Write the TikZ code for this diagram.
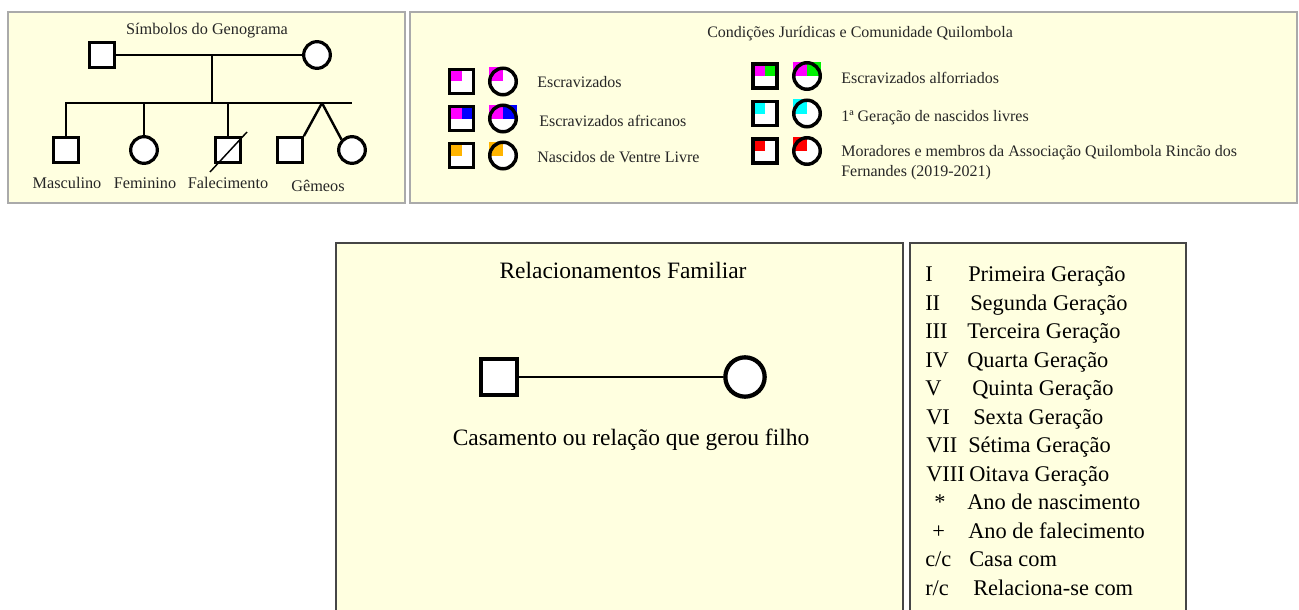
\documentclass[tikz,border=0pt]{standalone}
\usepackage{fontspec}
\setmainfont{Liberation Serif}
\definecolor{panel}{RGB}{255,255,224}
\definecolor{edgeA}{RGB}{170,170,170}
\definecolor{edgeB}{RGB}{70,70,70}
\definecolor{amber}{RGB}{255,180,0}
\definecolor{mag}{RGB}{255,0,255}
\definecolor{blu}{RGB}{0,0,255}
\definecolor{grn}{RGB}{0,240,0}
\definecolor{cyn}{RGB}{0,255,255}
\definecolor{rd}{RGB}{255,0,0}
\tikzset{
  panelA/.style={draw=edgeA, fill=panel, line width=1.5pt},
  panelB/.style={draw=edgeB, fill=panel, line width=1.5pt},
  gsq/.style={rectangle, draw, fill=white, line width=2.5pt, minimum size=18.3pt, inner sep=0pt},
  gci/.style={circle, draw, fill=white, line width=2.4pt, minimum size=20pt, inner sep=0pt},
  gline/.style={line width=1.8pt},
  lsq/.style={rectangle, draw, fill=white, line width=2.6pt, minimum size=18.2pt, inner sep=0pt},
  lci/.style={circle, draw, fill=white, line width=2.6pt, minimum size=19.9pt, inner sep=0pt},
  quad/.style={path picture={\fill[#1] (path picture bounding box.north west) rectangle (path picture bounding box.center);}},
  halfq/.style 2 args={path picture={\fill[#1] (path picture bounding box.north west) rectangle (path picture bounding box.center);
     \fill[#2] (path picture bounding box.north east) rectangle (path picture bounding box.center);}},
  smallA/.style={font=\fontsize{12.2}{15}\selectfont, text=black!85, inner sep=0pt, anchor=base},
  small/.style={font=\fontsize{12}{15}\selectfont, text=black!85, inner sep=0pt},
  lab/.style={small, anchor=base west},
  big/.style={font=\fontsize{17.6}{21}\selectfont, text=black, inner sep=0pt, anchor=base},
  gen/.style={font=\fontsize{16.8}{20}\selectfont, text=black, inner sep=0pt, anchor=base west},
}
\begin{document}
\begin{tikzpicture}[x=0.75pt,y=-0.75pt]
\useasboundingbox (0,0) rectangle (1299,610);
\fill[white] (0,0) rectangle (1299,610);

% ---------- Panel 1: Simbolos do Genograma ----------
\draw[panelA] (8,12) rectangle (405,203);
\node[smallA] (t1) at (207,35) {Símbolos do Genograma};
\node[gsq] (pf) at (102,55) {};
\node[gci] (pm) at (317,55) {};
\draw[gline] (pf) -- (pm);
\coordinate (cpl) at (212,55);
\coordinate (sib) at (212,103);
\coordinate (sibR) at (352,103);
\coordinate (tw) at (322,103);
\draw[gline] (cpl) -- (sib);
\node[gsq] (c1) at (66,150) {};
\node[gci] (c2) at (144,150) {};
\node[gsq] (c3) at (228,150) {};
\node[gsq] (c4) at (290,150) {};
\node[gci] (c5) at (352,150) {};
\draw[gline] (c1.north) -- (c1.north |- sib) -- (sibR);
\draw[gline] (c2.north) -- (c2.north |- sib);
\draw[gline] (c3.north) -- (c3.north |- sib);
\draw[gline] (tw) -- (c4.north east);
\draw[gline] (tw) -- (c5.north west);
\draw[line width=1.1pt] ([shift={(-18,22)}]c3.center) -- ([shift={(19,-18)}]c3.center);
\node[smallA] (l1) at (67,188) {Masculino};
\node[smallA] (l2) at (145,188) {Feminino};
\node[smallA] (l3) at (228,188) {Falecimento};
\node[smallA] (l4) at (318,191) {Gêmeos};

% ---------- Panel 2: Condicoes Juridicas ----------
\draw[panelA] (410,12) rectangle (1297,203);
\node[lab] (t2) at (707,38) {Condições Jurídicas e Comunidade Quilombola};
% left column
\node[lsq, quad=mag] (s1) at (461.5,81.5) {};
\fill[mag] (503,81.5) rectangle ++(-14,-14);
\node[lci, quad=mag] (o1) at (503,81.5) {};
\node[lab] (e1) at (537,88) {Escravizados};

\node[lsq, halfq={mag}{blu}] (s2) at (461.5,118.5) {};
\fill[mag] (503,118.5) rectangle ++(-14,-14);
\fill[blu] (503,118.5) rectangle ++(14,-14);
\node[lci, halfq={mag}{blu}] (o2) at (503,118.5) {};
\node[lab] (e2) at (539,126) {Escravizados africanos};

\node[lsq, quad=amber] (s3) at (461.5,155.5) {};
\fill[amber] (503,155.5) rectangle ++(-14,-14);
\node[lci, quad=amber] (o3) at (503,155.5) {};
\node[lab] (e3) at (537,162) {Nascidos de Ventre Livre};
% right column
\node[lsq, halfq={mag}{grn}] (s4) at (765,76) {};
\fill[mag] (807,76) rectangle ++(-14,-14);
\fill[grn] (807,76) rectangle ++(14,-14);
\node[lci, halfq={mag}{grn}] (o4) at (807,76) {};
\node[lab] (e4) at (841,84) {Escravizados alforriados};

\node[lsq, quad=cyn] (s5) at (765,113.5) {};
\fill[cyn] (807,113.5) rectangle ++(-14,-14);
\node[lci, quad=cyn] (o5) at (807,113.5) {};
\node[lab] (e5) at (841,122) {1ª Geração de nascidos livres};

\node[lsq, quad=rd] (s6) at (765,151) {};
\fill[rd] (807,151) rectangle ++(-14,-14);
\node[lci, quad=rd] (o6) at (807,151) {};
\node[lab] (e6) at (841,156) {Moradores e membros da Associação Quilombola Rincão dos};
\node[lab] (e6b) at (841,176) {Fernandes (2019-2021)};

% ---------- Panel 3: Relacionamentos Familiar ----------
\draw[panelB] (336,243) rectangle (903,625);
\node[big] (t3) at (623,278) {Relacionamentos Familiar};
\node[rectangle, draw, fill=white, line width=3.2pt, minimum size=26.5pt, inner sep=0pt] (hs) at (499,377) {};
\node[circle, draw, fill=white, line width=3.2pt, minimum size=29.5pt, inner sep=0pt] (hc) at (745,377) {};
\draw[line width=2pt] (hs) -- (hc);
\node[big] (cap) at (631,445) {Casamento ou relação que gerou filho};

% ---------- Panel 4: Geracoes ----------
\draw[panelB] (910,243) rectangle (1186,625);
\node[gen] (k1) at (925,281) {I};      \node[gen] (v1) at (968,281) {Primeira Geração};
\node[gen] (k2) at (925,310) {II};     \node[gen] (v2) at (970,310) {Segunda Geração};
\node[gen] (k3) at (925,338) {III};    \node[gen] (v3) at (967,338) {Terceira Geração};
\node[gen] (k4) at (925,367) {IV};     \node[gen] (v4) at (967,367) {Quarta Geração};
\node[gen] (k5) at (925,395) {V};      \node[gen] (v5) at (972,395) {Quinta Geração};
\node[gen] (k6) at (926,424) {VI};     \node[gen] (v6) at (973,424) {Sexta Geração};
\node[gen] (k7) at (926,452) {VII};    \node[gen] (v7) at (968,452) {Sétima Geração};
\node[gen] (k8) at (926,481) {VIII};   \node[gen] (v8) at (969,481) {Oitava Geração};
\node[gen] (k9) at (934,509) {*};      \node[gen] (v9) at (967,509) {Ano de nascimento};
\node[gen] (k10) at (932,538) {+};     \node[gen] (v10) at (968,538) {Ano de falecimento};
\node[gen] (k11) at (925,566) {c/c};   \node[gen] (v11) at (969,566) {Casa com};
\node[gen] (k12) at (925,595) {r/c};   \node[gen] (v12) at (973,595) {Relaciona-se com};
\end{tikzpicture}
\end{document}
